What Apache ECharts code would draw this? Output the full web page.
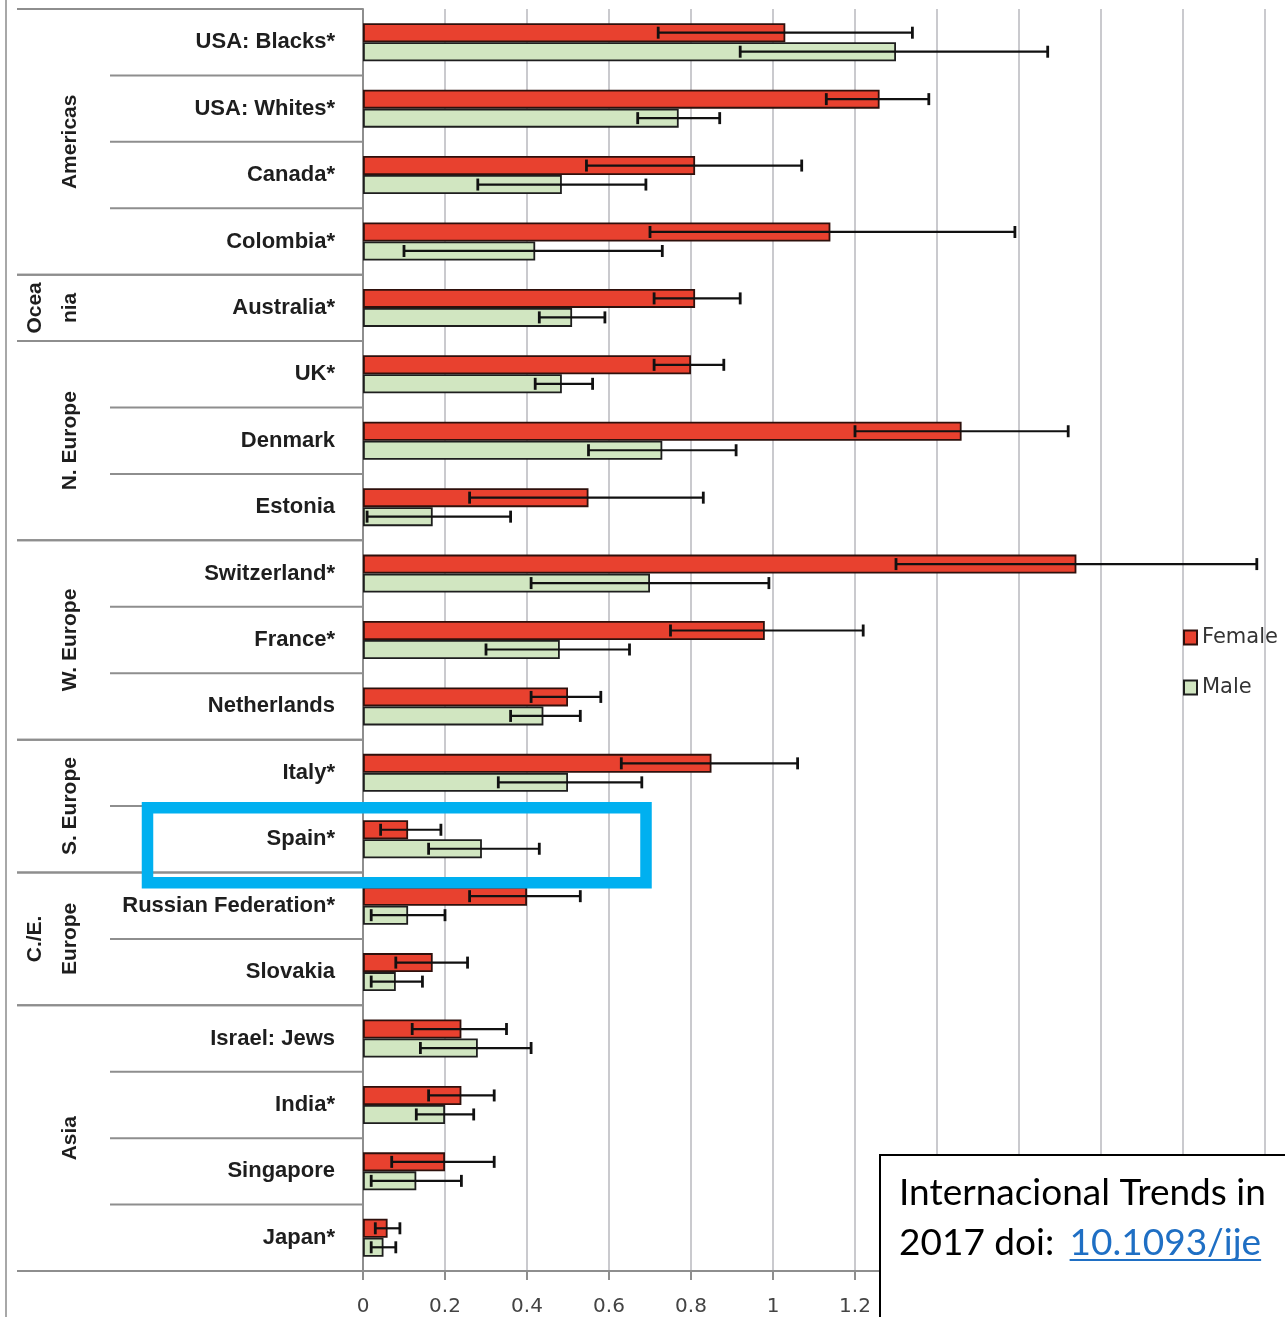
<!DOCTYPE html>
<html>
<head>
<meta charset="utf-8">
<script src="https://cdn.jsdelivr.net/npm/echarts@6/dist/echarts.min.js"></script>
<style>
  html, body { margin: 0; padding: 0; background: #ffffff; }
  #chart { width: 1285px; height: 1317px; }
</style>
</head>
<body>
<div id="chart"></div>
<script>
// Rates by country, female vs male, with confidence intervals
const categories = ['USA: Blacks*', 'USA: Whites*', 'Canada*', 'Colombia*', 'Australia*', 'UK*',
  'Denmark', 'Estonia', 'Switzerland*', 'France*', 'Netherlands', 'Italy*', 'Spain*',
  'Russian Federation*', 'Slovakia', 'Israel: Jews', 'India*', 'Singapore', 'Japan*'];

const female     = [1.03, 1.26, 0.81, 1.14, 0.81, 0.80, 1.46, 0.55, 1.74, 0.98, 0.50, 0.85, 0.11, 0.40, 0.17, 0.24, 0.24, 0.20, 0.06];
const femaleLow  = [0.72, 1.13, 0.545, 0.70, 0.71, 0.71, 1.20, 0.26, 1.30, 0.75, 0.41, 0.63, 0.043, 0.26, 0.08, 0.12, 0.16, 0.07, 0.03];
const femaleHigh = [1.34, 1.38, 1.07, 1.59, 0.92, 0.88, 1.72, 0.83, 2.18, 1.22, 0.58, 1.06, 0.19, 0.53, 0.255, 0.35, 0.32, 0.32, 0.09];

const male       = [1.30, 0.77, 0.485, 0.42, 0.51, 0.485, 0.73, 0.17, 0.70, 0.48, 0.44, 0.50, 0.29, 0.11, 0.08, 0.28, 0.20, 0.13, 0.05];
const maleLow    = [0.92, 0.67, 0.28, 0.10, 0.43, 0.42, 0.55, 0.01, 0.41, 0.30, 0.36, 0.33, 0.16, 0.02, 0.02, 0.14, 0.13, 0.02, 0.02];
const maleHigh   = [1.67, 0.87, 0.69, 0.73, 0.59, 0.56, 0.91, 0.36, 0.99, 0.65, 0.53, 0.68, 0.43, 0.20, 0.145, 0.41, 0.27, 0.24, 0.08];

// Regions: label lines and the first/last category index they cover
const regionNames = [['Americas'], ['Ocea', 'nia'], ['N. Europe'], ['W. Europe'], ['S. Europe'], ['C./E.', 'Europe'], ['Asia']];
const regionStart = [0, 4, 5, 8, 11, 13, 15];
const regionEnd   = [3, 4, 7, 10, 12, 14, 18];

const seriesNames = ['Female', 'Male'];
const highlighted = 'Spain*';
const noteLine1 = 'Internacional Trends in';
const noteLine2a = '2017 doi: ';
const noteLine2b = '10.1093/ije';

const BAR = 19;
const LABEL_FONT = '"Liberation Sans", Arial, sans-serif';
const AXIS_FONT = '"DejaVu Sans", Verdana, sans-serif';
const LINE_GRAY = '#8e8e8e';

const chart = echarts.init(document.getElementById('chart'), null, { renderer: 'canvas' });

function errorBars(sign) {
  return function (params, api) {
    const idx = api.value(0);
    const a = api.coord([api.value(1), idx]);
    const b = api.coord([api.value(2), idx]);
    const y = a[1] + sign * BAR / 2;
    const cap = 6;
    const st = { stroke: '#111111', lineWidth: 2.2 };
    const capSt = { stroke: '#111111', lineWidth: 2.8 };
    return {
      type: 'group',
      children: [
        { type: 'line', shape: { x1: a[0], y1: y, x2: b[0], y2: y }, style: st },
        { type: 'line', shape: { x1: a[0], y1: y - cap, x2: a[0], y2: y + cap }, style: capSt },
        { type: 'line', shape: { x1: b[0], y1: y - cap, x2: b[0], y2: y + cap }, style: capSt }
      ]
    };
  };
}

const option = {
  animation: false,
  backgroundColor: '#ffffff',
  grid: { left: 363, top: 9, width: 902, height: 1262, containLabel: false },
  legend: {
    data: seriesNames,
    orient: 'vertical',
    left: 1183,
    top: 627,
    itemWidth: 13,
    itemHeight: 14,
    itemGap: 29,
    padding: 0,
    icon: 'rect',
    textStyle: { fontSize: 21, color: '#333', fontFamily: AXIS_FONT }
  },
  xAxis: {
    type: 'value',
    min: 0,
    max: 2.2,
    interval: 0.2,
    axisLine: { show: true, lineStyle: { color: LINE_GRAY, width: 2 } },
    axisTick: { show: true, length: 9, lineStyle: { color: LINE_GRAY, width: 2 } },
    splitLine: { show: true, lineStyle: { color: '#b8b8be', width: 1.5 } },
    axisLabel: { fontSize: 20, color: '#444', margin: 26, fontFamily: AXIS_FONT }
  },
  yAxis: {
    type: 'category',
    data: categories,
    inverse: true,
    axisLine: { show: true, lineStyle: { color: LINE_GRAY, width: 2 } },
    axisTick: { show: false },
    axisLabel: {
      fontSize: 22, fontWeight: 'bold', color: '#1e1e1e', margin: 28,
      fontFamily: LABEL_FONT
    }
  },
  series: [
    {
      name: seriesNames[0], type: 'bar', data: female, barWidth: BAR, barGap: '0%',
      itemStyle: { color: '#E8412F', borderColor: '#2e100c', borderWidth: 1.8 }
    },
    {
      name: seriesNames[1], type: 'bar', data: male, barWidth: BAR, barGap: '0%',
      itemStyle: { color: '#D1E6C1', borderColor: '#1e1e1e', borderWidth: 1.8 }
    },
    {
      name: 'FemaleCI', type: 'custom', z: 5,
      renderItem: errorBars(-1),
      encode: { x: [1, 2], y: 0 },
      data: categories.map((c, i) => [i, femaleLow[i], femaleHigh[i]])
    },
    {
      name: 'MaleCI', type: 'custom', z: 5,
      renderItem: errorBars(1),
      encode: { x: [1, 2], y: 0 },
      data: categories.map((c, i) => [i, maleLow[i], maleHigh[i]])
    }
  ]
};

chart.setOption(option);

// Region table on the left, highlight frame and note box
function rowY(i) { return chart.convertToPixel({ yAxisIndex: 0 }, i); }
const band = rowY(1) - rowY(0);
const axisX = chart.convertToPixel({ xAxisIndex: 0 }, 0);
const gfx = [];
const lineStyle = { stroke: LINE_GRAY, lineWidth: 2 };

gfx.push({ type: 'line', shape: { x1: 6, y1: 0, x2: 6, y2: 1317 }, style: { stroke: '#a8a8a8', lineWidth: 2 } });

regionNames.forEach((name, g) => {
  const top = rowY(regionStart[g]) - band / 2;
  const bottom = rowY(regionEnd[g]) + band / 2;
  gfx.push({ type: 'line', shape: { x1: 17, y1: top, x2: axisX, y2: top }, style: lineStyle });
  gfx.push({ type: 'line', shape: { x1: 17, y1: bottom, x2: axisX, y2: bottom }, style: lineStyle });
  for (let i = regionStart[g]; i < regionEnd[g]; i++) {
    const y = rowY(i) + band / 2;
    gfx.push({ type: 'line', shape: { x1: 110, y1: y, x2: axisX, y2: y }, style: lineStyle });
  }
  const cx = name.length > 1 ? 53 : 70;
  gfx.push({
    type: 'text', x: cx, y: (top + bottom) / 2, rotation: Math.PI / 2,
    style: {
      text: name.join('\n'), align: 'center', verticalAlign: 'middle',
      font: 'bold 21px ' + LABEL_FONT, fill: '#1e1e1e', lineHeight: 35
    }
  });
});

// Blue frame around the highlighted row
const hy = rowY(categories.indexOf(highlighted));
gfx.push({
  type: 'rect', z: 100,
  shape: { x: 147.5, y: hy - 31.5, width: 498.5, height: 75 },
  style: { fill: 'none', stroke: '#00B0F0', lineWidth: 11.5 }
});

// Note box
const noteFont = '37px Lato, "Noto Sans", sans-serif';
const ctx = document.createElement('canvas').getContext('2d');
ctx.font = noteFont;
const w2a = ctx.measureText(noteLine2a).width;
const w2b = ctx.measureText(noteLine2b).width;
gfx.push({
  type: 'rect', z: 100,
  shape: { x: 880, y: 1155, width: 440, height: 200 },
  style: { fill: '#ffffff', stroke: '#000000', lineWidth: 2 }
});
gfx.push({
  type: 'text', z: 101, x: 899, y: 1193,
  style: { text: noteLine1, font: noteFont, fill: '#000', verticalAlign: 'middle' }
});
gfx.push({
  type: 'text', z: 101, x: 899, y: 1243,
  style: { text: noteLine2a, font: noteFont, fill: '#000', verticalAlign: 'middle' }
});
gfx.push({
  type: 'text', z: 101, x: 899 + w2a + 6, y: 1243,
  style: { text: noteLine2b, font: noteFont, fill: '#1F6FC4', verticalAlign: 'middle' }
});
gfx.push({
  type: 'line', z: 101,
  shape: { x1: 899 + w2a + 6, y1: 1260, x2: 899 + w2a + 6 + w2b, y2: 1260 },
  style: { stroke: '#1F6FC4', lineWidth: 2 }
});

chart.setOption({ graphic: gfx });
</script>
</body>
</html>
